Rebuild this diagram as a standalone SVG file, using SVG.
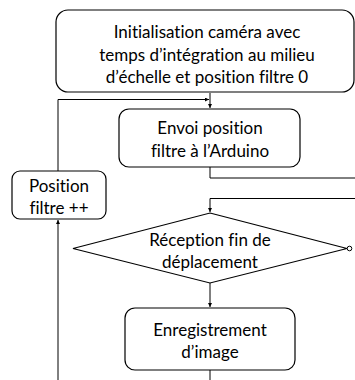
<svg xmlns="http://www.w3.org/2000/svg" width="355" height="380" viewBox="0 0 355 380">
<defs>
<marker id="ah" viewBox="0 0 6 6" refX="6" refY="3" markerWidth="4" markerHeight="4" orient="auto" markerUnits="userSpaceOnUse">
<path d="M0,0 L6,3 L0,6 z" fill="#000"/>
</marker>
</defs>
<style>
.box{fill:#fff;stroke:#000;stroke-width:1.2}
.ln{fill:none;stroke:#000;stroke-width:1}
text{font-family:Lato,"Open Sans","Liberation Sans",sans-serif;font-size:17px;fill:#000;text-anchor:middle;font-variant-ligatures:none}
</style>
<rect width="355" height="380" fill="#fff"/>
<g id="connectors">
<path class="ln" d="M210,93 V108" marker-end="url(#ah)"/>
<path class="ln" d="M58,171 V99.5 H209" marker-end="url(#ah)"/>
<path class="ln" d="M210,167 V178 H356"/>
<path class="ln" d="M356,198.5 H210 V212" marker-end="url(#ah)"/>
<path class="ln" d="M58,380 V220" marker-end="url(#ah)"/>
<path class="ln" d="M210,283 V307" marker-end="url(#ah)"/>
<path class="ln" d="M210,370 V380"/>
<circle cx="349.5" cy="248.5" r="2.3" fill="#fff" stroke="#000" stroke-width="1"/>
</g>
<g id="n_init">
<rect class="box" x="56" y="10" width="298" height="82" rx="12"/>
<text x="207" y="38">Initialisation caméra avec</text>
<text x="207" y="61">temps d’intégration au milieu</text>
<text x="207" y="83">d’échelle et position filtre 0</text>
</g>
<g id="n_envoi">
<rect class="box" x="119" y="109" width="181" height="58" rx="10"/>
<text x="210" y="134">Envoi position</text>
<text x="210" y="157">filtre à l’Arduino</text>
</g>
<g id="n_pos">
<rect class="box" x="12" y="171" width="94" height="48" rx="8"/>
<text x="59" y="192">Position</text>
<text x="59" y="214">filtre ++</text>
</g>
<g id="n_recep">
<polygon class="box" points="210,213 347,248.5 210,283 73,248.5"/>
<text x="210" y="246">Réception fin de</text>
<text x="210" y="268">déplacement</text>
</g>
<g id="n_enreg">
<rect class="box" x="125" y="308" width="170" height="62" rx="10"/>
<text x="210" y="336">Enregistrement</text>
<text x="210" y="358">d’image</text>
</g>
</svg>
